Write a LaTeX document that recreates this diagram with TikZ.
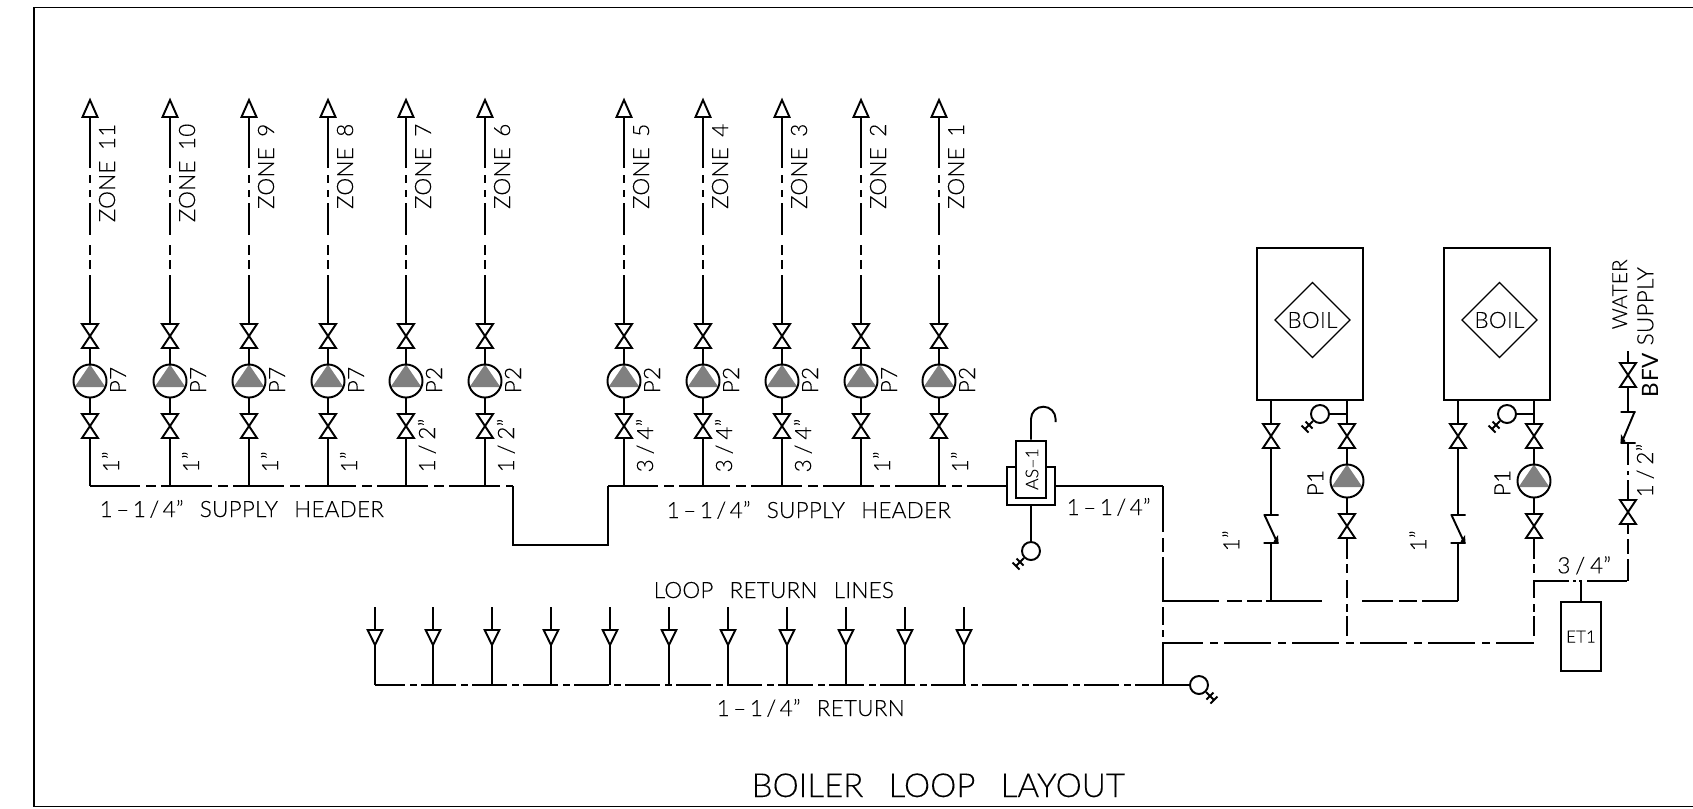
\documentclass[tikz,border=0pt]{standalone}
\usepackage{fontspec}
\setmainfont{Lato Light}[LetterSpace=1, FakeBold=.12]
\newfontfamily\boldlbl{Lato}[LetterSpace=4]
\usetikzlibrary{shapes.geometric}

\newcommand{\wgap}{\hspace{4.6pt}}
\newcommand{\sgap}{\hspace{1.4pt}}
\newcommand{\hdsize}{1\hspace{1pt}--\hspace{1pt}1\hspace{1pt}/\hspace{1pt}4”}

\tikzset{
  pipe/.style={line width=.55pt},
  lbl/.style={inner sep=0pt, font=\fontsize{6.4}{7}\selectfont},
  rlbl/.style={lbl, rotate=90},
  zonedash/.style={pipe, dash pattern=on .51cm off .07cm on .08cm off .07cm on .07cm off .06cm on .32cm off .10cm on .10cm off .05cm on .09cm off .06cm on .6cm},
  headdash/.style={pipe, dash pattern=on .51cm off .06cm on .10cm off .05cm, dash phase=.01cm},
  retdash/.style={pipe, dash pattern=on .35cm off .05cm on .07cm off .04cm, dash phase=.05cm},
  lowdash/.style={pipe, dash pattern=on .47cm off .07cm on .08cm off .06cm, dash phase=.07cm},
  legdash/.style={pipe, dash pattern=on .21cm off .05cm on .09cm off .07cm on .18cm off .06cm on .08cm off .04cm on .2cm},
  pumpc/.style={circle, draw, pipe, minimum size=.33cm, inner sep=0pt},
  tapc/.style={circle, draw, pipe, minimum size=.18cm, inner sep=0pt, fill=white},
  boilerbox/.style={draw, pipe, minimum width=1.06cm, minimum height=1.52cm, inner sep=0pt},
  boildia/.style={diamond, draw, line width=.35pt, minimum width=.755cm, minimum height=.755cm, inner sep=0pt, font=\fontsize{6.4}{7}\selectfont},
  tankbox/.style={draw, pipe, minimum width=.40cm, minimum height=.69cm, inner sep=0pt, font=\fontsize{4.8}{6}\selectfont},
  sepout/.style={draw, pipe, minimum width=.48cm, minimum height=.38cm, inner sep=0pt},
  sepin/.style={draw, line width=.75pt, fill=white, minimum width=.30cm, minimum height=.57cm, inner sep=0pt},
  valve/.pic={
    \draw[pipe] (-8,-12) -- (8,-12) -- (-8,12) -- (8,12) -- cycle;
    \coordinate (-t) at (0,-12);
    \coordinate (-b) at (0,12);
  },
  pump/.pic={
    \fill[gray] (0,-16.5) -- (15.4,6) -- (-15.4,6) -- cycle;
    \node[pumpc] (-c) at (0,0) {};
  },
  checkv/.pic={
    \draw[pipe] (-7.5,0) -- (7.5,0) (-6.5,0) -- (6.5,28) (-7.5,28) -- (7.5,28);
    \fill (7.5,28.3) -- (7,20) -- (2.5,26.5) -- cycle;
    \coordinate (-t) at (0,0);
    \coordinate (-b) at (0,28);
  },
  tap/.pic={
    \node[tapc] (-c) at (0,0) {};
    \coordinate (-e) at (15,15);
    \draw[pipe] (-c) -- (-e);
    \draw[pipe] (7.5,14.5) -- (14.5,7.5) (11.5,18.5) -- (18.5,11.5);
  },
  tipup/.pic={
    \draw[pipe] (-7.5,0) -- (7.5,0) -- (0,-17) -- cycle;
    \coordinate (-b) at (0,0);
  },
  tipdown/.pic={
    \draw[pipe] (-7.3,0) -- (7.3,0) -- (0,15) -- cycle;
    \coordinate (-t) at (0,0);
    \coordinate (-b) at (0,15);
  },
}

\begin{document}
\begin{tikzpicture}[x=.01cm, y=-.01cm]
\useasboundingbox (0,0) rectangle (1693,808);
\draw[line width=.45pt] (1693,7.5) -- (34,7.5) -- (34,806.5) -- (1693,806.5);

\foreach \n/\x/\pmp/\sz in {11/90/P7/1”, 10/170/P7/1”, 9/249/P7/1”, 8/328/P7/1”, 7/406/P2/{1\sgap/\sgap2”}, 6/485/P2/{1\sgap/\sgap2”}, 5/624/P2/{3\sgap/\sgap4”}, 4/703/P2/{3\sgap/\sgap4”}, 3/782/P2/{3\sgap/\sgap4”}, 2/861/P7/1”, 1/939/P2/1”} {
  \pic (tip\n) at (\x,117) {tipup};
  \pic (vu\n) at (\x,336) {valve};
  \pic (pu\n) at (\x,381) {pump};
  \pic (vl\n) at (\x,426) {valve};
  \coordinate (hd\n) at (\x,486);
  \draw[zonedash] (tip\n-b) -- (vu\n-t);
  \draw[pipe] (vu\n-b) -- (pu\n-c);
  \draw[pipe] (pu\n-c) -- (vl\n-t);
  \draw[pipe] (vl\n-b) -- (hd\n);
  \node[rlbl, anchor=base east] (zn\n) at (\x+25,123) {ZONE\hspace{3pt}\n};
  \node[rlbl, anchor=base] (pl\n) at (\x+36,380) {\pmp};
  \node[rlbl, anchor=base west] (sz\n) at (\x+29,473) {\sz};
}

\coordinate (hdla) at (513,486);
\coordinate (hdlb) at (513,545);
\coordinate (hdrb) at (608,545);
\coordinate (hdra) at (608,486);
\draw[headdash] (hd11) -- (hdla);
\draw[pipe] (hdla) -- (hdlb) -- (hdrb) -- (hdra);
\draw[headdash] (hdra) -- (1007,486);
\node[lbl, anchor=base west] (hdt1) at (99,517) {\hdsize\wgap SUPPLY\wgap HEADER};
\node[lbl, anchor=base west] (hdt2) at (666,518) {\hdsize\wgap SUPPLY\wgap HEADER};

\node[sepout] (asout) at (1031,486) {};
\node[sepin] (asin) at (1031,469.5) {};
\node[rlbl, font=\fontsize{5}{6}\selectfont] (astxt) at (1032,469) {AS--1};
\coordinate (vtop) at (1031,419);
\draw[pipe] (asin.north) -- (vtop) arc (180:360:12.3) -- ++(0,3);
\pic[xscale=-1] (tapa) at (1031,551) {tap};
\draw[pipe] (asout.south) -- (tapa-c);
\coordinate (mtop) at (1163,486);
\coordinate (mlow) at (1163,685);
\coordinate (msup) at (1163,601);
\coordinate (mret) at (1163,643);
\draw[pipe] (asout.east) -- (mtop);
\draw[pipe, dash pattern=on .46cm off .06cm on .14cm off .05cm on .45cm off .05cm on .18cm off .05cm on .07cm off .05cm on .5cm] (mtop) -- (mlow);
\node[lbl, anchor=base west] (mtxt) at (1066,515) {\hdsize};

\foreach \n/\x in {1/375, 2/433, 3/492, 4/551, 5/610, 6/669, 7/728, 8/787, 9/846, 10/905, 11/964} {
  \pic (rt\n) at (\x,630) {tipdown};
  \coordinate (rs\n) at (\x,607);
  \coordinate (rh\n) at (\x,685);
  \draw[pipe] (rs\n) -- (rt\n-t);
  \draw[pipe] (rt\n-b) -- (rh\n);
}
\draw[retdash] (rh1) -- (mlow);
\pic (tapd) at (1199,685) {tap};
\draw[pipe] (mlow) -- (tapd-c);
\node[lbl, anchor=base west] (lrl) at (653,598) {LOOP\wgap RETURN\wgap LINES};
\node[lbl, anchor=base west] (rtxt) at (716,716) {\hdsize\wgap RETURN};
\node[lbl, font=\fontsize{9.4}{11}\selectfont\addfontfeature{LetterSpace=0}, anchor=base west] (title) at (751,797) {BOILER\hspace{7.2pt}LOOP\hspace{7.2pt}LAYOUT};

\foreach \n/\x/\lx/\px in {1/1310/1271/1347, 2/1497/1458/1534} {
  \node[boilerbox] (boil\n) at (\x,324) {};
  \node[boildia] (dia\n) at (\x+2.4,320) {BOIL};
  \pic (ba\n) at (\lx,436) {valve};
  \pic (ck\n) at (\lx,515) {checkv};
  \coordinate (bs\n) at (\lx,601);
  \draw[pipe] (boil\n.south -| ba\n-t) -- (ba\n-t);
  \draw[pipe] (ba\n-b) -- (ck\n-t);
  \draw[pipe] (ck\n-b) -- (bs\n);
  \pic (bb\n) at (\px,436) {valve};
  \pic (bp\n) at (\px,481) {pump};
  \pic (bc\n) at (\px,526) {valve};
  \coordinate (br\n) at (\px,643);
  \draw[pipe] (boil\n.south -| bb\n-t) -- (bb\n-t);
  \draw[pipe] (bb\n-b) -- (bp\n-c);
  \draw[pipe] (bp\n-c) -- (bc\n-t);
  \draw[legdash] (bc\n-b) -- (br\n);
  \pic[xscale=-1] (bg\n) at (\px-27,414) {tap};
  \draw[pipe] (bg\n-c) -- (\px,414);
  \node[rlbl, anchor=base] (bl\n) at (\px-23.7,483) {P1};
  \node[rlbl, anchor=base west] (bz\n) at (\lx-31.7,552) {1”};
}

\coordinate (supgap) at (1322,601);
\coordinate (supres) at (1362,601);
\draw[pipe, dash pattern=on .56cm off .08cm on .15cm off .05cm on .15cm off .04cm on .6cm] (msup) -- (supgap);
\draw[pipe, dash pattern=on .31cm off .06cm on .18cm off .05cm on .4cm] (supres) -- (bs2);
\draw[lowdash] (mret) -- (br2);

\coordinate (wtee) at (1534,581);
\coordinate (wcor) at (1628,581);
\coordinate (etap) at (1581,581);
\draw[pipe, dash pattern=on .35cm off .04cm on .03cm off .03cm on .03cm off .05cm on .4cm] (wtee) -- (wcor);
\node[tankbox] (et) at (1581,636.5) {ET1};
\draw[pipe] (etap) -- (et.north);
\node[lbl, anchor=base west] (wsz) at (1556.7,573.3) {3\sgap/\sgap4”};

\pic (wv1) at (1628,512) {valve};
\pic[xscale=-1, yscale=1.107] (wck) at (1628,412) {checkv};
\pic (wv2) at (1628,375) {valve};
\coordinate (wend) at (1628,351);
\draw[pipe, dash pattern=on .1cm off .05cm on .15cm off .05cm on .4cm] (wv1-b) -- (wcor);
\draw[pipe, dash pattern=on .2cm off .05cm on .04cm off .06cm on .3cm] (wv1-t) -- (wck-b);
\draw[pipe] (wck-t) -- (wv2-b);
\draw[pipe] (wv2-t) -- (wend);
\node[rlbl, font=\fontsize{5.9}{7}\selectfont, anchor=base west] (wt1) at (1627,330) {WATER};
\node[rlbl, anchor=base west] (wt2) at (1653.3,346) {SUPPLY};
\node[rlbl, font=\fontsize{6.4}{7}\boldlbl, anchor=base west] (bfv) at (1658,398) {BFV};
\node[rlbl, anchor=base west] (wt3) at (1653,498) {1\sgap/\sgap2”};
\end{tikzpicture}
\end{document}
